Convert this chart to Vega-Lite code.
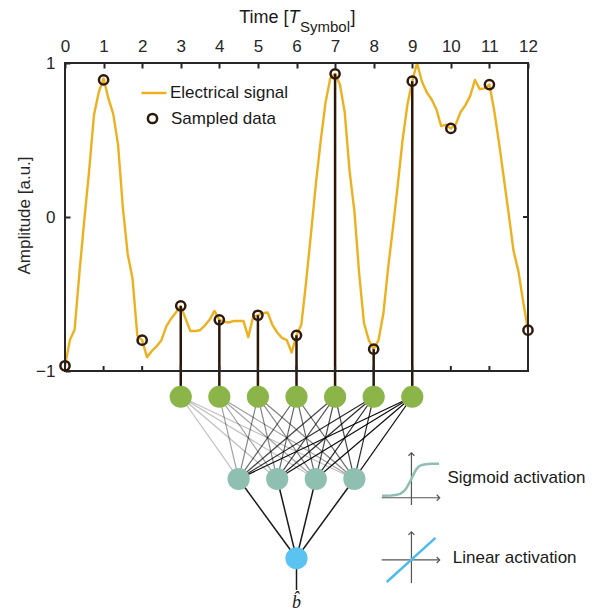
{
  "$schema": "https://vega.github.io/schema/vega-lite/v6.json",
  "width": 463,
  "height": 550,
  "autosize": {"type": "none"},
  "padding": {"left": 65, "top": 63, "right": 71, "bottom": 0},
  "config": {"view": {"stroke": null}, "font": "Liberation Sans", "axis": {"grid": false}},
  "datasets": {
    "signal": [
      {"x": 0, "y": -0.97}, {"x": 0.125, "y": -0.8}, {"x": 0.25, "y": -0.73}, {"x": 0.375, "y": -0.36},
      {"x": 0.5, "y": -0.02}, {"x": 0.625, "y": 0.3}, {"x": 0.75, "y": 0.66}, {"x": 0.875, "y": 0.81},
      {"x": 1, "y": 0.9}, {"x": 1.125, "y": 0.77}, {"x": 1.25, "y": 0.67}, {"x": 1.375, "y": 0.47},
      {"x": 1.5, "y": 0.06}, {"x": 1.625, "y": -0.24}, {"x": 1.75, "y": -0.4}, {"x": 1.875, "y": -0.77},
      {"x": 2, "y": -0.8}, {"x": 2.125, "y": -0.91}, {"x": 2.25, "y": -0.87}, {"x": 2.375, "y": -0.84},
      {"x": 2.5, "y": -0.8}, {"x": 2.625, "y": -0.71}, {"x": 2.75, "y": -0.66}, {"x": 2.875, "y": -0.62},
      {"x": 3, "y": -0.58}, {"x": 3.125, "y": -0.66}, {"x": 3.25, "y": -0.74}, {"x": 3.375, "y": -0.74},
      {"x": 3.5, "y": -0.735}, {"x": 3.625, "y": -0.705}, {"x": 3.75, "y": -0.666}, {"x": 3.875, "y": -0.61},
      {"x": 4, "y": -0.668}, {"x": 4.125, "y": -0.68}, {"x": 4.25, "y": -0.685}, {"x": 4.375, "y": -0.675},
      {"x": 4.5, "y": -0.675}, {"x": 4.625, "y": -0.675}, {"x": 4.75, "y": -0.78}, {"x": 4.875, "y": -0.65},
      {"x": 5, "y": -0.638}, {"x": 5.125, "y": -0.625}, {"x": 5.25, "y": -0.62}, {"x": 5.375, "y": -0.7},
      {"x": 5.5, "y": -0.75}, {"x": 5.625, "y": -0.785}, {"x": 5.75, "y": -0.8}, {"x": 5.875, "y": -0.88},
      {"x": 6, "y": -0.768}, {"x": 6.125, "y": -0.7}, {"x": 6.25, "y": -0.42}, {"x": 6.375, "y": -0.11},
      {"x": 6.5, "y": 0.21}, {"x": 6.625, "y": 0.49}, {"x": 6.75, "y": 0.74}, {"x": 6.875, "y": 0.9},
      {"x": 7, "y": 0.93}, {"x": 7.125, "y": 0.86}, {"x": 7.25, "y": 0.68}, {"x": 7.375, "y": 0.3},
      {"x": 7.5, "y": 0.04}, {"x": 7.625, "y": -0.37}, {"x": 7.75, "y": -0.69}, {"x": 7.875, "y": -0.8},
      {"x": 8, "y": -0.858}, {"x": 8.125, "y": -0.8}, {"x": 8.25, "y": -0.63}, {"x": 8.375, "y": -0.33},
      {"x": 8.5, "y": -0.07}, {"x": 8.625, "y": 0.21}, {"x": 8.75, "y": 0.5}, {"x": 8.875, "y": 0.73},
      {"x": 9, "y": 0.882}, {"x": 9.125, "y": 1.0}, {"x": 9.25, "y": 0.88}, {"x": 9.375, "y": 0.81},
      {"x": 9.5, "y": 0.765}, {"x": 9.625, "y": 0.7}, {"x": 9.75, "y": 0.59}, {"x": 9.875, "y": 0.6},
      {"x": 10, "y": 0.575}, {"x": 10.125, "y": 0.6}, {"x": 10.25, "y": 0.68}, {"x": 10.375, "y": 0.725},
      {"x": 10.5, "y": 0.785}, {"x": 10.625, "y": 0.89}, {"x": 10.75, "y": 0.83}, {"x": 10.875, "y": 0.835},
      {"x": 11, "y": 0.86}, {"x": 11.125, "y": 0.69}, {"x": 11.25, "y": 0.48}, {"x": 11.375, "y": 0.25},
      {"x": 11.5, "y": 0.02}, {"x": 11.625, "y": -0.22}, {"x": 11.75, "y": -0.35}, {"x": 11.875, "y": -0.55},
      {"x": 12, "y": -0.735}
    ],
    "samples": [
      {"x": 0, "y": -0.966}, {"x": 1, "y": 0.89}, {"x": 2, "y": -0.8}, {"x": 3, "y": -0.577},
      {"x": 4, "y": -0.668}, {"x": 5, "y": -0.638}, {"x": 6, "y": -0.768}, {"x": 7, "y": 0.93},
      {"x": 8, "y": -0.858}, {"x": 9, "y": 0.882}, {"x": 10, "y": 0.575}, {"x": 11, "y": 0.86},
      {"x": 12, "y": -0.735}
    ],
    "frame": [
      {"x": 0, "y": -1, "x2": 12, "y2": -1}, {"x": 0, "y": 1, "x2": 12, "y2": 1},
      {"x": 0, "y": -1, "x2": 0, "y2": 1}, {"x": 12, "y": -1, "x2": 12, "y2": 1}
    ],
    "bottomticks": [
      {"x": 0, "y": -1}, {"x": 1, "y": -1}, {"x": 2, "y": -1}, {"x": 3, "y": -1}, {"x": 4, "y": -1},
      {"x": 5, "y": -1}, {"x": 6, "y": -1}, {"x": 7, "y": -1}, {"x": 8, "y": -1}, {"x": 9, "y": -1},
      {"x": 10, "y": -1}, {"x": 11, "y": -1}, {"x": 12, "y": -1}
    ],
    "rightticks": [{"x": 12, "y": -1}, {"x": 12, "y": 0}, {"x": 12, "y": 1}],
    "nodes": [
      {"x": 3, "y": -1.167, "layer": "input"}, {"x": 4, "y": -1.167, "layer": "input"},
      {"x": 5, "y": -1.167, "layer": "input"}, {"x": 6, "y": -1.167, "layer": "input"},
      {"x": 7, "y": -1.167, "layer": "input"}, {"x": 8, "y": -1.167, "layer": "input"},
      {"x": 9, "y": -1.167, "layer": "input"},
      {"x": 4.5, "y": -1.701, "layer": "hidden"}, {"x": 5.5, "y": -1.701, "layer": "hidden"},
      {"x": 6.5, "y": -1.701, "layer": "hidden"}, {"x": 7.5, "y": -1.701, "layer": "hidden"},
      {"x": 6, "y": -2.216, "layer": "output"}
    ],
    "edges": [
      {"x": 3, "y": -1.167, "x2": 4.5, "y2": -1.701, "s": 1}, {"x": 3, "y": -1.167, "x2": 5.5, "y2": -1.701, "s": 1},
      {"x": 3, "y": -1.167, "x2": 6.5, "y2": -1.701, "s": 1}, {"x": 3, "y": -1.167, "x2": 7.5, "y2": -1.701, "s": 1},
      {"x": 4, "y": -1.167, "x2": 4.5, "y2": -1.701, "s": 2}, {"x": 4, "y": -1.167, "x2": 5.5, "y2": -1.701, "s": 2},
      {"x": 4, "y": -1.167, "x2": 6.5, "y2": -1.701, "s": 2}, {"x": 4, "y": -1.167, "x2": 7.5, "y2": -1.701, "s": 2},
      {"x": 5, "y": -1.167, "x2": 4.5, "y2": -1.701, "s": 3}, {"x": 5, "y": -1.167, "x2": 5.5, "y2": -1.701, "s": 3},
      {"x": 5, "y": -1.167, "x2": 6.5, "y2": -1.701, "s": 3}, {"x": 5, "y": -1.167, "x2": 7.5, "y2": -1.701, "s": 3},
      {"x": 6, "y": -1.167, "x2": 4.5, "y2": -1.701, "s": 4}, {"x": 6, "y": -1.167, "x2": 5.5, "y2": -1.701, "s": 4},
      {"x": 6, "y": -1.167, "x2": 6.5, "y2": -1.701, "s": 4}, {"x": 6, "y": -1.167, "x2": 7.5, "y2": -1.701, "s": 4},
      {"x": 7, "y": -1.167, "x2": 4.5, "y2": -1.701, "s": 5}, {"x": 7, "y": -1.167, "x2": 5.5, "y2": -1.701, "s": 5},
      {"x": 7, "y": -1.167, "x2": 6.5, "y2": -1.701, "s": 5}, {"x": 7, "y": -1.167, "x2": 7.5, "y2": -1.701, "s": 5},
      {"x": 8, "y": -1.167, "x2": 4.5, "y2": -1.701, "s": 6}, {"x": 8, "y": -1.167, "x2": 5.5, "y2": -1.701, "s": 6},
      {"x": 8, "y": -1.167, "x2": 6.5, "y2": -1.701, "s": 6}, {"x": 8, "y": -1.167, "x2": 7.5, "y2": -1.701, "s": 6},
      {"x": 9, "y": -1.167, "x2": 4.5, "y2": -1.701, "s": 7}, {"x": 9, "y": -1.167, "x2": 5.5, "y2": -1.701, "s": 7},
      {"x": 9, "y": -1.167, "x2": 6.5, "y2": -1.701, "s": 7}, {"x": 9, "y": -1.167, "x2": 7.5, "y2": -1.701, "s": 7}
    ],
    "edges2": [
      {"x": 4.5, "y": -1.701, "x2": 6, "y2": -2.216}, {"x": 5.5, "y": -1.701, "x2": 6, "y2": -2.216},
      {"x": 6.5, "y": -1.701, "x2": 6, "y2": -2.216}, {"x": 7.5, "y": -1.701, "x2": 6, "y2": -2.216},
      {"x": 6, "y": -2.216, "x2": 6, "y2": -2.422}
    ],
    "iconaxes": [
      {"x": 8.979, "y": -1.531, "x2": 8.979, "y2": -1.87}, {"x": 8.209, "y": -1.823, "x2": 9.712, "y2": -1.823},
      {"x": 8.979, "y": -2.045, "x2": 8.979, "y2": -2.377}, {"x": 8.209, "y": -2.227, "x2": 9.712, "y2": -2.227}
    ],
    "arrows": [
      {"x": 8.979, "y": -1.531, "dir": "up"}, {"x": 9.712, "y": -1.823, "dir": "right"},
      {"x": 8.979, "y": -2.045, "dir": "up"}, {"x": 9.712, "y": -2.227, "dir": "right"}
    ],
    "sigmoid": [
      {"x": 8.217, "y": -1.81}, {"x": 8.45, "y": -1.808}, {"x": 8.6, "y": -1.804}, {"x": 8.7, "y": -1.796},
      {"x": 8.78, "y": -1.781}, {"x": 8.85, "y": -1.76}, {"x": 8.92, "y": -1.728}, {"x": 8.98, "y": -1.7},
      {"x": 9.04, "y": -1.668}, {"x": 9.1, "y": -1.64}, {"x": 9.17, "y": -1.62}, {"x": 9.25, "y": -1.61},
      {"x": 9.35, "y": -1.605}, {"x": 9.5, "y": -1.603}, {"x": 9.694, "y": -1.602}
    ],
    "linear": [{"x": 8.339, "y": -2.37, "x2": 9.601, "y2": -2.084}],
    "labels": [
      {"x": 9.912, "y": -1.695, "text": "Sigmoid activation"},
      {"x": 10.05, "y": -2.214, "text": "Linear activation"}
    ],
    "titleanchor": [{"x": 6, "y": 1}]
  },
  "encoding": {
    "x": {
      "field": "x", "type": "quantitative",
      "scale": {"domain": [0, 12], "nice": false, "zero": false},
      "axis": {
        "orient": "top", "values": [0, 1, 2, 3, 4, 5, 6, 7, 8, 9, 10, 11, 12], "title": null,
        "domain": false, "tickSize": -5, "tickWidth": 2, "tickColor": "#262626",
        "labelFontSize": 17, "labelFont": "Liberation Sans", "labelColor": "#262626",
        "labelPadding": 13, "labelFlush": false, "labelOverlap": false, "format": "d"
      }
    },
    "y": {
      "field": "y", "type": "quantitative",
      "scale": {"domain": [-2.5714, 1], "nice": false, "zero": false},
      "axis": {
        "orient": "left", "values": [-1, 0, 1], "title": "Amplitude [a.u.]",
        "domain": false, "tickSize": -5, "tickWidth": 2, "tickColor": "#262626",
        "labelFontSize": 17, "labelFont": "Liberation Sans", "labelColor": "#262626",
        "labelPadding": 15, "labelFlush": false, "format": "d",
        "titleFontSize": 17, "titleFont": "Liberation Sans", "titleFontWeight": "normal", "titleColor": "#262626",
        "titleX": -36, "titleY": 152, "titleAngle": -90, "titleBaseline": "alphabetic", "titleAlign": "center"
      }
    }
  },
  "layer": [
    {
      "data": {"name": "signal"},
      "mark": {"type": "line", "strokeWidth": 2.4, "strokeJoin": "round"},
      "encoding": {
        "color": {
          "datum": "Electrical signal", "type": "nominal",
          "scale": {"range": ["#EDB120"]},
          "legend": {
            "orient": "none", "legendX": 75, "legendY": 16, "title": null, "padding": 0,
            "symbolType": "stroke", "symbolSize": 625, "symbolStrokeWidth": 2.5,
            "labelFontSize": 17, "labelFont": "Liberation Sans", "labelColor": "#1a1a1a", "labelOffset": 2
          }
        }
      }
    },
    {
      "data": {"name": "samples"},
      "transform": [{"filter": "datum.x >= 3 && datum.x <= 9"}],
      "mark": {"type": "rule", "strokeWidth": 2.5, "color": "#2B1508"},
      "encoding": {"y2": {"datum": -1.167}}
    },
    {
      "data": {"name": "frame"},
      "mark": {"type": "rule", "stroke": "#262626", "strokeWidth": 2, "strokeCap": "square"},
      "encoding": {"x2": {"field": "x2"}, "y2": {"field": "y2"}}
    },
    {
      "data": {"name": "bottomticks"},
      "mark": {"type": "rule", "stroke": "#262626", "strokeWidth": 2, "y2Offset": -5},
      "encoding": {"x2": {"field": "x"}, "y2": {"field": "y"}}
    },
    {
      "data": {"name": "rightticks"},
      "mark": {"type": "rule", "stroke": "#262626", "strokeWidth": 2, "x2Offset": -5},
      "encoding": {"x2": {"field": "x"}, "y2": {"field": "y"}}
    },
    {
      "data": {"name": "samples"},
      "mark": {"type": "point", "filled": false, "size": 85, "strokeWidth": 2.5, "opacity": 1},
      "encoding": {
        "stroke": {
          "datum": "Sampled data", "type": "nominal",
          "scale": {"range": ["#2E1A0C"]},
          "legend": {
            "orient": "none", "legendX": 79, "legendY": 47, "title": null, "padding": 0,
            "symbolType": "circle", "symbolSize": 85, "symbolStrokeWidth": 2.5,
            "labelFontSize": 17, "labelFont": "Liberation Sans", "labelColor": "#1a1a1a", "labelOffset": 10
          }
        }
      }
    },
    {
      "data": {"name": "edges"},
      "mark": {"type": "rule", "strokeWidth": 1.2, "color": "#000000"},
      "encoding": {
        "x2": {"field": "x2"}, "y2": {"field": "y2"},
        "opacity": {"field": "s", "type": "quantitative", "scale": {"domain": [1, 7], "range": [0.25, 0.95]}, "legend": null}
      }
    },
    {
      "data": {"name": "edges2"},
      "mark": {"type": "rule", "strokeWidth": 1.5, "color": "#1a1a1a"},
      "encoding": {"x2": {"field": "x2"}, "y2": {"field": "y2"}}
    },
    {
      "data": {"name": "nodes"},
      "mark": {"type": "circle", "opacity": 1, "size": 491},
      "encoding": {
        "fill": {
          "field": "layer", "type": "nominal",
          "scale": {"domain": ["input", "hidden", "output"], "range": ["#8BB548", "#8EBFB0", "#5BC3F0"]},
          "legend": null
        }
      }
    },
    {
      "data": {"name": "iconaxes"},
      "mark": {"type": "rule", "stroke": "#555555", "strokeWidth": 1.2},
      "encoding": {"x2": {"field": "x2"}, "y2": {"field": "y2"}}
    },
    {
      "data": {"name": "arrows"},
      "mark": {"type": "point", "filled": false, "stroke": "#555555", "strokeWidth": 1.2, "size": 36, "opacity": 1},
      "encoding": {
        "shape": {
          "field": "dir", "type": "nominal",
          "scale": {"domain": ["up", "right"], "range": ["M-1,1L0,0L1,1", "M-1,-1L0,0L-1,1"]},
          "legend": null
        }
      }
    },
    {
      "data": {"name": "sigmoid"},
      "mark": {"type": "line", "stroke": "#8EBFB0", "strokeWidth": 2.5}
    },
    {
      "data": {"name": "linear"},
      "mark": {"type": "rule", "stroke": "#4DBBEB", "strokeWidth": 2.5},
      "encoding": {"x2": {"field": "x2"}, "y2": {"field": "y2"}}
    },
    {
      "data": {"name": "labels"},
      "mark": {"type": "text", "align": "left", "baseline": "middle", "fontSize": 17, "font": "Liberation Sans", "color": "#1a1a1a"},
      "encoding": {"text": {"field": "text"}}
    },
    {
      "data": {"values": [{"x": 6, "y": -2.506, "text": "b̂"}]},
      "mark": {"type": "text", "align": "center", "baseline": "middle", "fontSize": 18, "font": "Liberation Serif", "fontStyle": "italic", "color": "#1a1a1a"},
      "encoding": {"text": {"field": "text"}}
    },
    {
      "data": {"name": "titleanchor"},
      "mark": {"type": "text", "text": "Time [", "align": "right", "baseline": "alphabetic", "dx": -8, "dy": -40, "fontSize": 18, "font": "Liberation Sans", "color": "#1a1a1a"}
    },
    {
      "data": {"name": "titleanchor"},
      "mark": {"type": "text", "text": "T", "align": "left", "baseline": "alphabetic", "dx": -8, "dy": -40, "fontSize": 18, "fontStyle": "italic", "font": "Liberation Sans", "color": "#1a1a1a"}
    },
    {
      "data": {"name": "titleanchor"},
      "mark": {"type": "text", "text": "Symbol", "align": "left", "baseline": "alphabetic", "dx": 3.5, "dy": -31.5, "fontSize": 15, "font": "Liberation Sans", "color": "#1a1a1a"}
    },
    {
      "data": {"name": "titleanchor"},
      "mark": {"type": "text", "text": "]", "align": "left", "baseline": "alphabetic", "dx": 54, "dy": -40, "fontSize": 18, "font": "Liberation Sans", "color": "#1a1a1a"}
    }
  ]
}
